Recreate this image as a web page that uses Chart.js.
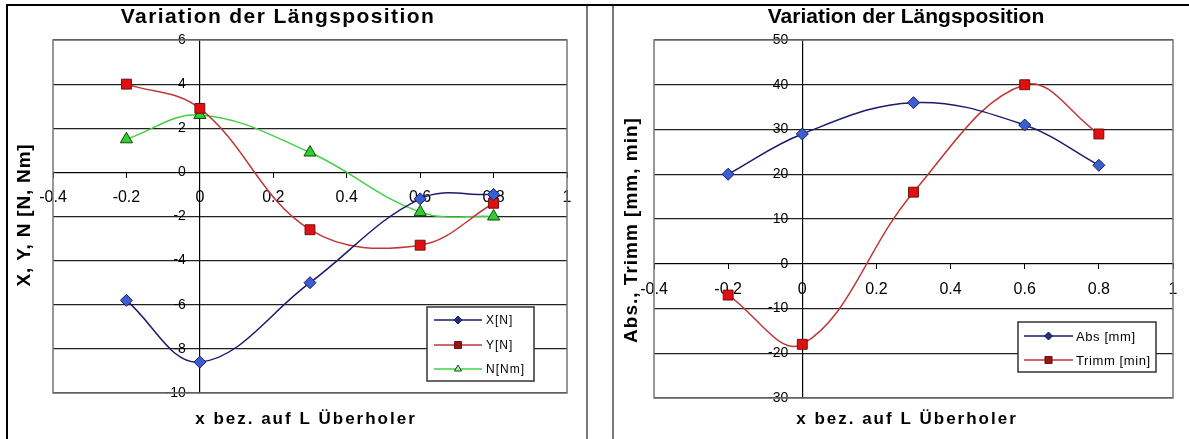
<!DOCTYPE html>
<html>
<head>
<meta charset="utf-8">
<script src="https://cdn.jsdelivr.net/npm/chart.js@4/dist/chart.umd.min.js"></script>
<style>
  html, body { margin: 0; padding: 0; background: #fff; }
  body { position: relative; width: 1189px; height: 439px; overflow: hidden; }
  .rule { position: absolute; }
  #topRule { left: 6px; top: 4px; width: 1183px; height: 2px; background: #000; }
  #leftRule { left: 6px; top: 4px; width: 2px; height: 435px; background: #000; }
  #sepA { left: 586px; top: 6px; width: 2px; height: 433px; background: #777; }
  #sepB { left: 612px; top: 6px; width: 2px; height: 433px; background: #777; }
  canvas { position: absolute; top: 7px; }
  #forces { left: 8px; }
  #trim { left: 615px; }
</style>
</head>
<body>
<div class="rule" id="topRule"></div>
<div class="rule" id="leftRule"></div>
<div class="rule" id="sepA"></div>
<div class="rule" id="sepB"></div>
<canvas id="forces" width="578" height="432"></canvas>
<canvas id="trim" width="574" height="432"></canvas>
<script>
// Longitudinal position of the overtaking vessel, relative to its length
const xPos = [-0.2, 0, 0.3, 0.6, 0.8];

// Left diagram: forces and yaw moment
const forceX = [-5.8, -8.6, -5.0, -1.2, -1.0];
const forceY = [4.0, 2.9, -2.6, -3.3, -1.4];
const momentN = [1.5, 2.6, 0.9, -1.8, -2.0];

// Right diagram: sinkage and trim
const absMm = [20, 29, 36, 31, 22];
const trimmMin = [-7, -18, 16, 40, 29];

// Tick labels, in ascending order
const xTickLabels = ['-0.4', '-0.2', '0', '0.2', '0.4', '0.6', '0.8', '1'];
const forceTickLabels = ['-10', '-8', '-6', '-4', '-2', '0', '2', '4', '6'];
const trimTickLabels = ['-30', '-20', '-10', '0', '10', '20', '30', '40', '50'];

const SANS = "'Liberation Sans', Arial, sans-serif";

const toPoints = (ys) => xPos.map((x, i) => ({ x, y: ys[i] }));

function marker(ctx, style, x, y, r) {
  ctx.beginPath();
  if (style === 'rectRot') {
    ctx.moveTo(x, y - r); ctx.lineTo(x + r, y); ctx.lineTo(x, y + r); ctx.lineTo(x - r, y);
  } else if (style === 'rect') {
    const s = r * Math.SQRT1_2;
    ctx.rect(x - s, y - s, 2 * s, 2 * s);
  } else {
    ctx.moveTo(x, y - r);
    ctx.lineTo(x + r * Math.sin(2 * Math.PI / 3), y - r * Math.cos(2 * Math.PI / 3));
    ctx.lineTo(x + r * Math.sin(4 * Math.PI / 3), y - r * Math.cos(4 * Math.PI / 3));
  }
  ctx.closePath();
  ctx.fill();
  ctx.stroke();
}

// Grey frame around the plot area
const plotFrame = {
  id: 'plotFrame',
  beforeDatasetsDraw(chart) {
    const { ctx, chartArea: a } = chart;
    ctx.save();
    ctx.strokeStyle = '#777';
    ctx.lineWidth = 1.5;
    ctx.strokeRect(a.left, a.top, a.right - a.left, a.bottom - a.top);
    ctx.restore();
  }
};

// Title, axis titles and the boxed legend
const panelText = {
  id: 'panelText',
  afterDraw(chart, args, o) {
    const ctx = chart.ctx;
    ctx.save();
    ctx.fillStyle = '#000';
    ctx.textAlign = 'center';
    ctx.textBaseline = 'alphabetic';

    ctx.font = `bold ${o.titleSize}px ${SANS}`;
    ctx.letterSpacing = o.titleSpacing + 'px';
    ctx.fillText(o.title, o.titleX, o.titleY);

    ctx.font = `bold 17px ${SANS}`;
    ctx.letterSpacing = o.xTitleSpacing + 'px';
    ctx.fillText(o.xTitle, o.xTitleX, o.xTitleY);

    ctx.save();
    ctx.translate(o.yTitleX, o.yTitleY);
    ctx.rotate(-Math.PI / 2);
    ctx.textBaseline = 'middle';
    ctx.font = `bold 19px ${SANS}`;
    ctx.letterSpacing = o.yTitleSpacing + 'px';
    ctx.fillText(o.yTitle, 0, 0);
    ctx.restore();

    // legend
    const L = o.legend;
    ctx.fillStyle = '#fff';
    ctx.fillRect(L.x, L.y, L.w, L.h);
    ctx.strokeStyle = '#333';
    ctx.lineWidth = 1.5;
    ctx.strokeRect(L.x, L.y, L.w, L.h);
    ctx.font = `${L.fontSize}px ${SANS}`;
    ctx.letterSpacing = L.spacing + 'px';
    ctx.textAlign = 'left';
    ctx.textBaseline = 'middle';
    chart.data.datasets.forEach((ds, i) => {
      const cy = L.rowY[i];
      ctx.strokeStyle = ds.borderColor;
      ctx.lineWidth = 1.3;
      ctx.beginPath();
      ctx.moveTo(L.lineX0, cy);
      ctx.lineTo(L.lineX1, cy);
      ctx.stroke();
      ctx.fillStyle = ds.legendFill;
      ctx.strokeStyle = ds.pointBorderColor;
      ctx.lineWidth = 1;
      marker(ctx, ds.pointStyle, (L.lineX0 + L.lineX1) / 2, cy, ds.pointStyle === 'rect' ? 5 : 4);
      ctx.fillStyle = '#000';
      ctx.fillText(ds.label, L.textX, cy + 1);
    });
    ctx.restore();
  }
};

function series(label, ys, line, fill, edge, style, radius, legendFill) {
  return {
    label,
    data: toPoints(ys),
    borderColor: line,
    borderWidth: 1.5,
    pointStyle: style,
    pointRadius: radius,
    pointBackgroundColor: fill,
    pointBorderColor: edge,
    pointBorderWidth: 1,
    legendFill,
    tension: 0.38,
    fill: false
  };
}

function axes(yMin, yMax, yStep, yLabels) {
  return {
    x: {
      type: 'linear',
      min: -0.4,
      max: 1,
      position: { y: 0 },
      ticks: {
        stepSize: 0.2,
        autoSkip: false,
        maxRotation: 0,
        padding: 11,
        color: '#000',
        font: { family: SANS, size: 16 },
        callback: (v, i) => xTickLabels[i]
      },
      grid: { drawOnChartArea: false, drawTicks: true, tickLength: 5, color: '#000' },
      border: { display: true, color: '#000', width: 1 }
    },
    y: {
      type: 'linear',
      min: yMin,
      max: yMax,
      position: { x: 0 },
      ticks: {
        stepSize: yStep,
        color: '#000',
        font: { family: SANS, size: 14 },
        // labels sit left of the centred axis line, with a gap of two en spaces
        callback: (v, i) => yLabels[i] + '\u2002\u2002'
      },
      grid: { color: '#222', lineWidth: 1.2, drawTicks: false },
      border: { display: true, color: '#000', width: 1.2 }
    }
  };
}

function baseOptions(scales, text, pad) {
  return {
    responsive: false,
    animation: false,
    devicePixelRatio: 1,
    layout: { padding: pad },
    scales,
    plugins: {
      legend: { display: false },
      tooltip: { enabled: false },
      panelText: text
    }
  };
}

new Chart(document.getElementById('forces'), {
  type: 'line',
  data: {
    datasets: [
      series('X[N]', forceX, '#1a1a70', '#3b5fd0', '#1a1a70', 'rectRot', 6, '#24307a'),
      series('Y[N]', forceY, '#c03838', '#e01010', '#701010', 'rect', 7, '#901818'),
      series('N[Nm]', momentN, '#44d044', '#33cc33', '#0a4a0a', 'triangle', 7, '#b8f0b8')
    ]
  },
  options: baseOptions(
    axes(-10, 6, 2, forceTickLabels),
    {
      title: 'Variation der Längsposition', titleSize: 21, titleSpacing: 1.4, titleX: 270, titleY: 16,
      xTitle: 'x bez. auf L Überholer', xTitleSpacing: 2, xTitleX: 298, xTitleY: 417,
      yTitle: 'X, Y, N [N, Nm]', yTitleSpacing: 0.8, yTitleX: 17, yTitleY: 208,
      legend: {
        x: 419, y: 300, w: 107, h: 74, fontSize: 12, spacing: 1,
        lineX0: 426, lineX1: 474, textX: 478, rowY: [313, 338, 362]
      }
    },
    { left: 45, top: 33, right: 19, bottom: 46 }
  ),
  plugins: [plotFrame, panelText]
});

new Chart(document.getElementById('trim'), {
  type: 'line',
  data: {
    datasets: [
      series('Abs [mm]', absMm, '#1a1a70', '#3b5fd0', '#1a1a70', 'rectRot', 6, '#24307a'),
      series('Trimm [min]', trimmMin, '#c03838', '#e01010', '#701010', 'rect', 7, '#901818')
    ]
  },
  options: baseOptions(
    axes(-30, 50, 10, trimTickLabels),
    {
      title: 'Variation der Längsposition', titleSize: 21, titleSpacing: 0, titleX: 291, titleY: 16,
      xTitle: 'x bez. auf L Überholer', xTitleSpacing: 2, xTitleX: 292, xTitleY: 417,
      yTitle: 'Abs., Trimm [mm, min]', yTitleSpacing: 1, yTitleX: 17, yTitleY: 223,
      legend: {
        x: 403, y: 315, w: 138, h: 50, fontSize: 13, spacing: 0.6,
        lineX0: 409, lineX1: 458, textX: 461, rowY: [329, 353]
      }
    },
    { left: 39, top: 33, right: 16, bottom: 41 }
  ),
  plugins: [plotFrame, panelText]
});
</script>
</body>
</html>
